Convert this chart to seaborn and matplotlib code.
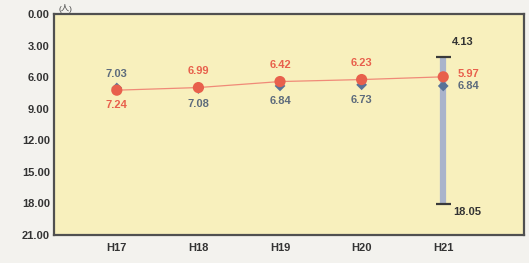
import pandas as pd
import seaborn as sns
import matplotlib.pyplot as plt

# values
years = ['H17', 'H18', 'H19', 'H20', 'H21']
red_values = [7.24, 6.99, 6.42, 6.23, 5.97]
blue_values = [7.03, 7.08, 6.84, 6.73, 6.84]
range_low = 4.13
range_high = 18.05
y_ticks = [0, 3, 6, 9, 12, 15, 18, 21]

RED = '#e8604c'
BLUE = '#587398'
BLUE_TEXT = '#5d6b7c'
BAR = '#a9b3cb'


def plot_chart():
    sns.set_theme(style='white')
    plt.rcParams['font.family'] = ['Liberation Sans', 'Noto Sans CJK JP', 'DejaVu Sans']

    data = pd.DataFrame({'pos': range(len(years)), 'year': years,
                         'red': red_values, 'blue': blue_values})

    fig = plt.figure(figsize=(5.29, 2.63), dpi=100, facecolor='#f3f2ee')
    ax = fig.add_axes([0.102, 0.1065, 0.8886, 0.8403])
    ax.set_facecolor('#f8f0bd')

    # range bar for the last year
    last = len(years) - 1
    mid = (range_low + range_high) / 2
    ax.errorbar([last], [mid], yerr=[[mid - range_low], [range_high - mid]],
                fmt='none', ecolor=BAR, elinewidth=4.5, capsize=0, zorder=2)
    ax.hlines([range_low, range_high], last - 0.09, last + 0.09,
              colors='#3a3a3a', linewidth=1.6, zorder=3)

    sns.scatterplot(data=data, x='pos', y='blue', marker='D', s=30,
                    color=BLUE, edgecolor='none', ax=ax, zorder=4)
    sns.lineplot(data=data, x='pos', y='red', color='#f08a78', linewidth=0.9,
                 ax=ax, zorder=5)
    sns.scatterplot(data=data, x='pos', y='red', marker='o', s=65,
                    color=RED, edgecolor='none', ax=ax, zorder=6)

    # value labels
    tkw = dict(ha='center', va='center', fontsize=8, fontweight='bold',
               textcoords='offset points')
    for i in range(len(years)):
        r, b = red_values[i], blue_values[i]
        if i == last:
            ax.annotate(f'{r:.2f}', (i, r), xytext=(18, 2), color=RED, **tkw)
            ax.annotate(f'{b:.2f}', (i, b), xytext=(18, 0), color=BLUE_TEXT, **tkw)
        elif b < r:
            ax.annotate(f'{b:.2f}', (i, r), xytext=(0, 12), color=BLUE_TEXT, **tkw)
            ax.annotate(f'{r:.2f}', (i, r), xytext=(0, -11), color=RED, **tkw)
        else:
            ax.annotate(f'{r:.2f}', (i, r), xytext=(0, 12), color=RED, **tkw)
            ax.annotate(f'{b:.2f}', (i, b), xytext=(0, -11), color=BLUE_TEXT, **tkw)
    ax.annotate(f'{range_low:.2f}', (last, range_low), xytext=(14, 11),
                color='#333333', **tkw)
    ax.annotate(f'{range_high:.2f}', (last, range_high), xytext=(17, -6),
                color='#333333', **tkw)

    ax.set_xlim(-0.77, 4.99)
    ax.set_ylim(21, 0)
    ax.set_yticks(y_ticks)
    ax.set_yticklabels([f'{v:.2f}' for v in y_ticks])
    ax.set_xticks(range(len(years)))
    ax.set_xticklabels(years)
    ax.tick_params(axis='both', length=0, labelsize=8, colors='#333333', pad=3)
    for lab in ax.get_xticklabels() + ax.get_yticklabels():
        lab.set_fontweight('bold')
    ax.tick_params(axis='x', pad=6)
    ax.set_xlabel('')
    ax.set_ylabel('')
    for sp in ax.spines.values():
        sp.set_color('#505050')
        sp.set_linewidth(1.6)

    ax.text(0.01, 1.005, '(人)', transform=ax.transAxes, fontsize=6,
            color='#444444', ha='left', va='bottom')

    fig.savefig('out.png', dpi=100, facecolor=fig.get_facecolor())


if __name__ == '__main__':
    plot_chart()
